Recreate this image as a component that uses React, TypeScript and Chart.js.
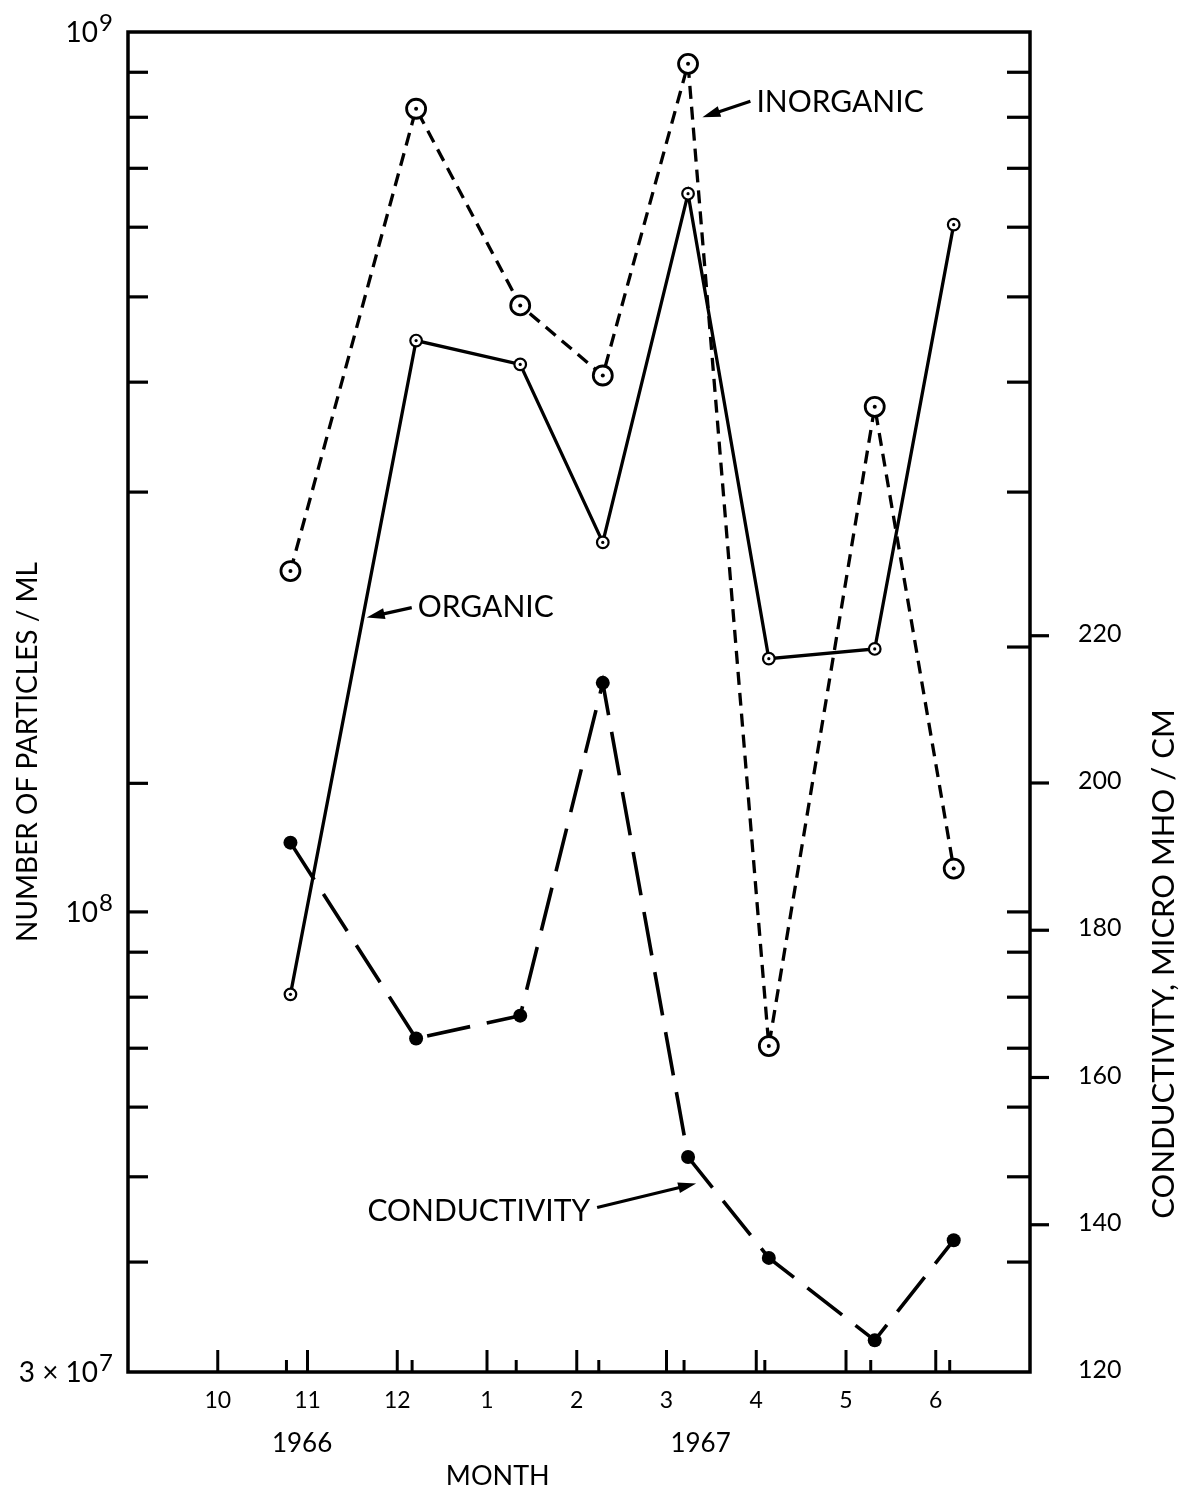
import React, { useEffect, useRef } from "react";
import { Chart, registerables } from "chart.js";

Chart.register(...registerables);

// ---- data ----
const sampleMonths = [10.81, 12.21, 13.37, 14.29, 15.24, 16.14, 17.32, 18.2];
const inorganic = [2.44e8, 8.18e8, 4.89e8, 4.07e8, 9.2e8, 7.04e7, 3.75e8, 1.12e8];
const organic = [8.06e7, 4.46e8, 4.19e8, 2.63e8, 6.55e8, 1.94e8, 1.99e8, 6.04e8];
const conductivity = [191.9, 165.3, 168.4, 213.6, 149.2, 135.5, 124.3, 137.9];

const monthTicks = [10, 11, 12, 13, 14, 15, 16, 17, 18];
const monthLabels = ["10", "11", "12", "1", "2", "3", "4", "5", "6"];
const yearLabels = ["1966", "1967"];
const yearMonths = [10.94, 15.38];
const monthTitleAt = 13.12;

const leftTickValues = [9e8, 8e8, 7e8, 6e8, 5e8, 4e8, 3e8, 1.4e8, 1e8, 9e7, 8e7, 7e7, 6e7, 5e7, 4e7];
const rightInnerTickValues = [9e8, 8e8, 7e8, 6e8, 5e8, 4e8, 3e8, 2e8, 1e8, 9e7, 8e7, 7e7, 6e7, 5e7, 4e7];
const leftLabelValues = [1e9, 1e8, 3e7];
const leftLabelBases = ["10", "10", "3 × 10"];
const leftLabelExps = ["9", "8", "7"];
const conductivityTicks = [120, 140, 160, 180, 200, 220];

const FONT = "Lato, 'Noto Sans', sans-serif";

const toPts = (ys: number[]) => sampleMonths.map((m, i) => ({ x: m, y: ys[i] }));

const drawArrow = (ctx: CanvasRenderingContext2D, x1: number, y1: number, x2: number, y2: number) => {
  const dx = x2 - x1, dy = y2 - y1;
  const len = Math.hypot(dx, dy);
  const ux = dx / len, uy = dy / len;
  const headLen = 18, half = 5.5;
  const bx = x2 - ux * headLen, by = y2 - uy * headLen;
  ctx.beginPath();
  ctx.lineWidth = 3.2;
  ctx.moveTo(x1, y1);
  ctx.lineTo(bx + ux * 2, by + uy * 2);
  ctx.stroke();
  ctx.beginPath();
  ctx.moveTo(x2, y2);
  ctx.lineTo(bx - uy * half, by + ux * half);
  ctx.lineTo(bx + uy * half, by - ux * half);
  ctx.closePath();
  ctx.fill();
};

const framePlugin = {
  id: "frame",
  beforeDraw(chart: any) {
    const ctx = chart.ctx;
    ctx.save();
    ctx.fillStyle = "#fff";
    ctx.fillRect(0, 0, chart.width, chart.height);
    ctx.restore();
  },
  afterDraw(chart: any) {
    const ctx: CanvasRenderingContext2D = chart.ctx;
    const xs = chart.scales.x, ys = chart.scales.y, y2 = chart.scales.y2;
    const { left, right, top, bottom } = chart.chartArea;
    ctx.save();
    ctx.strokeStyle = "#000";
    ctx.fillStyle = "#000";
    ctx.lineCap = "butt";
    ctx.lineWidth = 3.5;
    ctx.strokeRect(left, top, right - left, bottom - top);

    // left inward ticks
    ctx.lineWidth = 3.2;
    leftTickValues.forEach((v) => {
      const p = ys.getPixelForValue(v);
      ctx.beginPath();
      ctx.moveTo(left, p);
      ctx.lineTo(left + 20, p);
      ctx.stroke();
    });
    // right inner ticks
    rightInnerTickValues.forEach((v) => {
      const p = ys.getPixelForValue(v);
      ctx.beginPath();
      ctx.moveTo(right - 23, p);
      ctx.lineTo(right, p);
      ctx.stroke();
    });
    // right outer ticks + labels
    ctx.font = `25px ${FONT}`;
    ctx.textAlign = "left";
    ctx.textBaseline = "middle";
    conductivityTicks.forEach((v) => {
      const p = y2.getPixelForValue(v);
      if (v !== conductivityTicks[0]) {
        ctx.beginPath();
        ctx.moveTo(right, p);
        ctx.lineTo(right + 19, p);
        ctx.stroke();
      }
      ctx.fillText(String(v), right + 48, p - 2);
    });
    // bottom ticks
    ctx.lineWidth = 3;
    monthTicks.forEach((m) => {
      const p = xs.getPixelForValue(m);
      ctx.beginPath();
      ctx.moveTo(p, bottom);
      ctx.lineTo(p, bottom - 22);
      ctx.stroke();
    });
    sampleMonths.forEach((m) => {
      const p = xs.getPixelForValue(m) - 4;
      ctx.beginPath();
      ctx.moveTo(p, bottom);
      ctx.lineTo(p, bottom - 12);
      ctx.stroke();
    });
    // bottom labels
    ctx.font = `23px ${FONT}`;
    ctx.textAlign = "center";
    monthTicks.forEach((m, i) => {
      ctx.fillText(monthLabels[i], xs.getPixelForValue(m), bottom + 29);
    });
    ctx.font = `26px ${FONT}`;
    yearLabels.forEach((t, i) => {
      ctx.fillText(t, xs.getPixelForValue(yearMonths[i]), bottom + 72);
    });
    ctx.font = `27px ${FONT}`;
    ctx.fillText("MONTH", xs.getPixelForValue(monthTitleAt), bottom + 104);

    // left labels with superscripts
    ctx.textBaseline = "alphabetic";
    ctx.textAlign = "right";
    leftLabelValues.forEach((v, i) => {
      const p = ys.getPixelForValue(v);
      ctx.font = `24px ${FONT}`;
      const ew = ctx.measureText(leftLabelExps[i]).width;
      ctx.fillText(leftLabelExps[i], 113, p - 1);
      ctx.font = `28px ${FONT}`;
      ctx.fillText(leftLabelBases[i], 113 - ew - 1, p + 10);
    });

    // axis titles
    ctx.textAlign = "center";
    ctx.textBaseline = "middle";
    ctx.save();
    ctx.translate(28, 752);
    ctx.rotate(-Math.PI / 2);
    ctx.font = `28px ${FONT}`;
    ctx.fillText("NUMBER OF PARTICLES / ML", 0, 0);
    ctx.restore();
    ctx.save();
    ctx.translate(1164, 964);
    ctx.rotate(-Math.PI / 2);
    ctx.font = `31px ${FONT}`;
    ctx.fillText("CONDUCTIVITY, MICRO MHO / CM", 0, 0);
    ctx.restore();

    // annotations
    ctx.font = `30px ${FONT}`;
    ctx.textBaseline = "middle";
    // INORGANIC
    {
      const tx = xs.getPixelForValue(15.4), ty = ys.getPixelForValue(8.0e8);
      drawArrow(ctx, tx + 48, ty - 16, tx, ty);
      ctx.textAlign = "left";
      ctx.fillText("INORGANIC", tx + 54, ty - 15);
    }
    // ORGANIC
    {
      const tx = xs.getPixelForValue(11.66), ty = ys.getPixelForValue(2.16e8);
      drawArrow(ctx, tx + 45, ty - 10, tx, ty);
      ctx.textAlign = "left";
      ctx.fillText("ORGANIC", tx + 51, ty - 10);
    }
    // CONDUCTIVITY
    {
      const tx = xs.getPixelForValue(15.33), ty = y2.getPixelForValue(145.6);
      drawArrow(ctx, tx - 99, ty + 24, tx, ty);
      ctx.textAlign = "right";
      ctx.fillText("CONDUCTIVITY", tx - 106, ty + 28);
    }
    ctx.restore();
  },
};

export default function App() {
  const ref = useRef<HTMLCanvasElement | null>(null);
  useEffect(() => {
    document.body.style.margin = "0";
    const canvas = ref.current;
    if (!canvas) return;
    const chart = new Chart(canvas, {
      type: "line",
      data: {
        datasets: [
          {
            label: "Inorganic centers",
            data: toPts(inorganic),
            yAxisID: "y",
            showLine: false,
            pointRadius: 2,
            pointBorderWidth: 0,
            pointBackgroundColor: "#000",
            order: 0,
          },
          {
            label: "Organic centers",
            data: toPts(organic),
            yAxisID: "y",
            showLine: false,
            pointRadius: 1.6,
            pointBorderWidth: 0,
            pointBackgroundColor: "#000",
            order: 0,
          },
          {
            label: "Inorganic",
            data: toPts(inorganic),
            yAxisID: "y",
            borderColor: "#000",
            borderWidth: 3.3,
            borderDash: [13, 8],
            tension: 0,
            pointRadius: 9.5,
            pointBorderWidth: 2.8,
            pointBorderColor: "#000",
            pointBackgroundColor: "#fff",
            order: 2,
          },
          {
            label: "Organic",
            data: toPts(organic),
            yAxisID: "y",
            borderColor: "#000",
            borderWidth: 3.3,
            tension: 0,
            pointRadius: 5.8,
            pointBorderWidth: 2.2,
            pointBorderColor: "#000",
            pointBackgroundColor: "#fff",
            order: 2,
          },
          {
            label: "Conductivity",
            data: toPts(conductivity),
            yAxisID: "y2",
            borderColor: "#000",
            borderWidth: 3.6,
            borderDash: [44, 17],
            tension: 0,
            pointRadius: 7,
            pointBorderWidth: 0,
            pointBackgroundColor: "#000",
            order: 2,
          },
        ],
      },
      options: {
        responsive: false,
        animation: false,
        layout: { padding: { left: 128, right: 155, top: 32, bottom: 120 } },
        plugins: { legend: { display: false }, tooltip: { enabled: false } },
        scales: {
          x: { type: "linear", min: 9, max: 19.05, display: false },
          y: { type: "logarithmic", min: 3e7, max: 1e9, display: false },
          y2: { type: "linear", min: 120, max: 302, display: false },
        },
      },
      plugins: [framePlugin],
    });
    return () => chart.destroy();
  }, []);
  return <canvas ref={ref} width={1185} height={1492} style={{ display: "block" }} />;
}
